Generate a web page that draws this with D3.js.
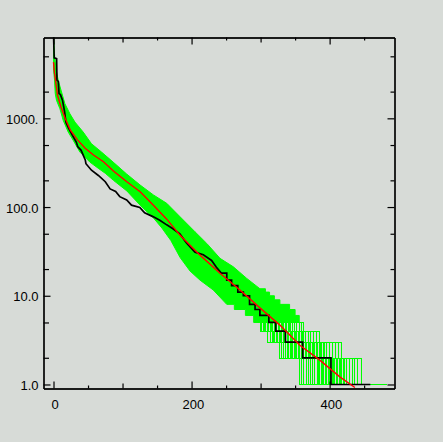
<!DOCTYPE html>
<html><head><meta charset="utf-8">
<script src="https://cdn.jsdelivr.net/npm/d3@7"></script>
<style>html,body{margin:0;padding:0;background:#d7dbd7;} svg{display:block}</style>
</head><body>
<svg id="c" width="443" height="442"></svg>
<script>
// ---- tick data ----
const yTickValues = [1, 10, 100, 1000];
const yTickLabels = ["1.0", "10.0", "100.0", "1000."];
const yMinorValues = [2, 5, 20, 50, 200, 500, 2000, 5000];
const xTickValues = [0, 200, 400];
const xTickLabels = ["0", "200", "400"];
const xMidValues = [100, 300];
const xMinorValues = [50, 150, 250, 350, 450];

// ---- observed (black) ----
const blackRank  = [0, 1, 4.5, 5, 7, 8, 10, 13, 16, 18, 22, 27, 33, 35, 40, 46, 47, 55, 65, 75, 82, 90, 96, 106, 113, 125, 132, 144, 154, 164, 173, 183, 190, 193, 205, 217, 229, 236, 243, 251, 258, 267, 275, 284, 292, 299, 312, 322, 336, 361, 402, 459];
const blackCount = [9000, 4800, 4700, 2700, 2600, 1900, 1850, 1600, 1200, 900, 770, 650, 540, 480, 436, 340, 308, 260, 227, 193, 160, 150, 131, 120, 105, 99, 86, 78, 71, 63, 57, 50, 42, 39, 31, 29, 25, 21, 18, 15, 13, 11, 10, 8, 7, 6, 5, 4, 3, 2, 1, 1];
const blackStepFrom = 250;

// ---- model (red) ----
const redRank  = [0, 1.4, 3.5, 5.8, 10.7, 16.9, 24.2, 34.7, 45.9, 57.9, 72.4, 86.8, 106.2, 125.5, 144.7, 164.1, 183.4, 212.3, 241.2, 270.1, 299, 328, 356.9, 385.8, 414.8, 436.6];
const redCount = [4300, 3250, 2480, 1830, 1350, 1000, 741, 572, 459, 386, 324, 255, 193, 149, 105, 73, 48, 28.7, 17.9, 11.6, 7.3, 4.67, 2.77, 1.88, 1.22, 0.925];

// ---- simulations (green): envelope of the upper part ----
const greenUpperRank  = [0, 1.7, 3.9, 6.8, 11.6, 16.5, 23.7, 31, 43, 55, 69.5, 86.4, 105.6, 125.5, 144.7, 164.1, 183.4, 205, 222, 241.2, 260.5, 279.9, 299, 307, 313, 320, 328, 342, 350, 356, 361, 384, 416, 445, 482];
const greenUpperCount = [9000, 4900, 3500, 2680, 1982, 1461, 1127, 908, 700, 517, 417, 321, 237, 177, 137, 110, 77.6, 52.6, 38.9, 26.4, 21.2, 15.7, 12, 11, 10, 9, 8, 7, 6, 5, 4, 3, 2, 1, 1];
const greenLowerRank  = [0, 1.5, 2.5, 4.3, 9.3, 14, 21.3, 28.5, 38.2, 52.7, 64.7, 75, 86.8, 106.2, 125.5, 145, 157, 170, 183.4, 197.8, 212.3, 231.5, 251, 262, 278, 290, 298, 310, 327, 355, 482];
const greenLowerCount = [3600, 2700, 1900, 1600, 1280, 950, 700, 565, 417, 321, 274, 240, 200, 152, 105, 75, 58, 42, 27, 19, 15, 11.6, 8, 7, 6, 5, 4, 3, 2, 1, 1];
const greenUpperStepFrom = 299;
const greenLowerStepFrom = 251;

// ---- simulations (green): ranks where the curves step down in the tail ----
const greenDropTo4 = [299, 301, 303, 305, 307, 309, 311, 313, 315, 317, 319, 321, 323, 325, 327, 329, 331, 333, 335, 337, 339, 341, 343, 345, 348, 351, 355, 358, 361];
const greenDropTo3 = [310, 313, 316, 318, 320, 322, 324, 326, 328, 330, 332, 334, 336, 338, 340, 342, 344, 346, 348, 350, 352, 354, 356, 358, 360, 362, 364, 368, 372, 376, 380, 385];
const greenDropTo2 = [327, 330, 333, 336, 338, 340, 342, 344, 346, 348, 350, 352, 354, 356, 358, 360, 362, 364, 366, 368, 370, 372, 374, 376, 378, 380, 382, 384, 386, 388, 390, 392, 395, 399, 403, 408, 412, 416];
const greenDropTo1 = [355, 358, 362, 366, 369, 372, 375, 378, 381, 383, 385, 387, 389, 391, 393, 395, 397, 399, 401, 403, 405, 407, 409, 411, 413, 415, 417, 419, 421, 424, 428, 432, 436, 440, 445];
const greenLastRank = 482;
const greenTailLevel = 5;

// ---- layout ----
const L = 43.5, R = 394.5, T = 37.5, B = 388.5;
const svg = d3.select("#c");
const x = d3.scaleLinear().domain([-14.5, 494]).range([L, R]);
const y = d3.scaleLog().domain([0.901, 8147]).range([B, T]);

const defs = svg.append("defs");
defs.append("clipPath").attr("id", "plot")
  .append("rect").attr("x", L).attr("y", T).attr("width", R - L).attr("height", B - T);
defs.append("clipPath").attr("id", "head")
  .append("rect").attr("x", L).attr("y", T).attr("width", R - L).attr("height", y(greenTailLevel) + 0.5 - T);
const g = svg.append("g").attr("clip-path", "url(#plot)");

function hybridPoints(ranks, vals, stepFrom) {
  const pts = [];
  for (let i = 0; i < ranks.length; i++) {
    if (i > 0 && ranks[i] > stepFrom) pts.push([x(ranks[i]), y(vals[i - 1])]);
    pts.push([x(ranks[i]), y(vals[i])]);
  }
  return pts;
}
const up = hybridPoints(greenUpperRank, greenUpperCount, greenUpperStepFrom);
const lo = hybridPoints(greenLowerRank, greenLowerCount, greenLowerStepFrom).reverse();
g.append("g").attr("clip-path", "url(#head)").append("path")
  .attr("d", d3.line()(up.concat(lo)) + "Z")
  .attr("fill", "#00ff00").attr("stroke", "#00ff00").attr("stroke-width", 1);

// tail: individual steps
const drops = [null, greenDropTo1, greenDropTo2, greenDropTo3, greenDropTo4];
const px = v => Math.round(v) + 0.5;
const tail = g.append("g").attr("stroke", "#00ff00").attr("stroke-width", 1).attr("fill", "none")
  .attr("shape-rendering", "crispEdges");
for (let k = 1; k <= 4; k++) {
  drops[k].forEach(r => {
    tail.append("line").attr("x1", px(x(r))).attr("x2", px(x(r)))
      .attr("y1", px(y(k + 1))).attr("y2", px(y(k)));
  });
}
for (let k = 1; k <= 5; k++) {
  const a = k <= 4 ? d3.min(drops[k]) : d3.min(drops[4]);
  const b = k === 1 ? greenLastRank : d3.max(drops[k - 1]);
  tail.append("line").attr("x1", px(x(a))).attr("x2", px(x(b)))
    .attr("y1", px(y(k))).attr("y2", px(y(k)));
}

g.append("path")
  .attr("d", d3.line()(hybridPoints(blackRank, blackCount, blackStepFrom)))
  .attr("fill", "none").attr("stroke", "#000").attr("stroke-width", 1.7);

const redData = redRank.map((r, i) => [r, redCount[i]]);
g.append("path")
  .attr("d", d3.line().x(d => x(d[0])).y(d => y(d[1]))(redData))
  .attr("fill", "none").attr("stroke", "#ff0000").attr("stroke-width", 1.4);

// ---- axes ----
const font = "'Liberation Sans', Arial, sans-serif";
function styleAxis(sel) {
  sel.attr("font-family", font).attr("font-size", 13);
  sel.selectAll("path.domain").attr("stroke", "#000").attr("stroke-width", 1.2);
  sel.selectAll(".tick line").attr("stroke", "#000").attr("stroke-width", 1.2);
  sel.selectAll("text").attr("fill", "#000").attr("font-family", font).attr("font-size", 13);
}
// left
svg.append("g").attr("transform", `translate(${L},0)`)
  .call(d3.axisLeft(y).tickValues(yTickValues).tickFormat((d, i) => yTickLabels[i])
    .tickSizeInner(-7).tickSizeOuter(0).tickPadding(5))
  .call(styleAxis).call(s => s.selectAll("text").attr("dy", "0.4em"));
svg.append("g").attr("transform", `translate(${L},0)`)
  .call(d3.axisLeft(y).tickValues(yMinorValues).tickFormat("").tickSizeInner(-5.5).tickSizeOuter(0))
  .call(styleAxis);
// right
svg.append("g").attr("transform", `translate(${R},0)`)
  .call(d3.axisRight(y).tickValues(yTickValues).tickFormat("").tickSizeInner(-7).tickSizeOuter(0))
  .call(styleAxis);
svg.append("g").attr("transform", `translate(${R},0)`)
  .call(d3.axisRight(y).tickValues(yMinorValues).tickFormat("").tickSizeInner(-4).tickSizeOuter(0))
  .call(styleAxis);
// bottom
svg.append("g").attr("transform", `translate(0,${B})`)
  .call(d3.axisBottom(x).tickValues(xTickValues).tickFormat((d, i) => xTickLabels[i])
    .tickSizeInner(-7).tickSizeOuter(0).tickPadding(11))
  .call(styleAxis).call(s => s.selectAll("text").attr("dx", "1.2"));
svg.append("g").attr("transform", `translate(0,${B})`)
  .call(d3.axisBottom(x).tickValues(xMidValues).tickFormat("").tickSizeInner(-5).tickSizeOuter(0))
  .call(styleAxis);
svg.append("g").attr("transform", `translate(0,${B})`)
  .call(d3.axisBottom(x).tickValues(xMinorValues).tickFormat("").tickSizeInner(-3).tickSizeOuter(0))
  .call(styleAxis);
// top
svg.append("g").attr("transform", `translate(0,${T})`)
  .call(d3.axisTop(x).tickValues(xTickValues).tickFormat("").tickSizeInner(-7).tickSizeOuter(0))
  .call(styleAxis);
svg.append("g").attr("transform", `translate(0,${T})`)
  .call(d3.axisTop(x).tickValues(xMidValues).tickFormat("").tickSizeInner(-5).tickSizeOuter(0))
  .call(styleAxis);
svg.append("g").attr("transform", `translate(0,${T})`)
  .call(d3.axisTop(x).tickValues(xMinorValues).tickFormat("").tickSizeInner(-3).tickSizeOuter(0))
  .call(styleAxis);
</script>
</body></html>
